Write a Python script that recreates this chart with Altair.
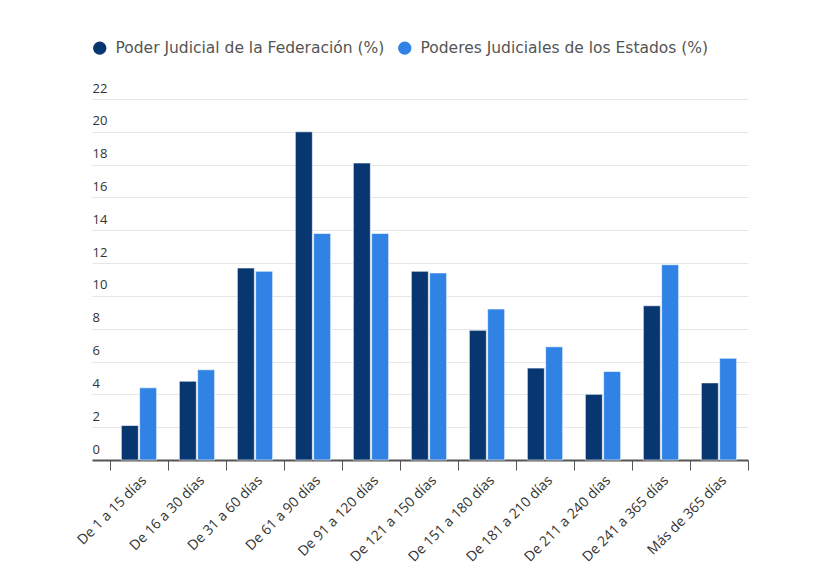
import altair as alt
import pandas as pd

categories = ["De 1 a 15 días", "De 16 a 30 días", "De 31 a 60 días", "De 61 a 90 días",
              "De 91 a 120 días", "De 121 a 150 días", "De 151 a 180 días", "De 181 a 210 días",
              "De 211 a 240 días", "De 241 a 365 días", "Más de 365 días"]
federacion = [2.1, 4.8, 11.7, 20.0, 18.1, 11.5, 7.9, 5.6, 4.0, 9.4, 4.7]
estados = [4.4, 5.5, 11.5, 13.8, 13.8, 11.4, 9.2, 6.9, 5.4, 11.9, 6.2]
series = ["Poder Judicial de la Federación (%)", "Poderes Judiciales de los Estados (%)"]
colors = ["#083671", "#3083e4"]
y_ticks = [0, 2, 4, 6, 8, 10, 12, 14, 16, 18, 20, 22]

rows = []
for c, f, e in zip(categories, federacion, estados):
    rows.append({"cat": c, "serie": series[0], "valor": f})
    rows.append({"cat": c, "serie": series[1], "valor": e})
df = pd.DataFrame(rows)

FONT = "Open Sans"
LEGEND_FONT = "DejaVu Sans"

chart = alt.Chart(df).mark_bar(stroke="white", strokeWidth=1, strokeOpacity=0.6).encode(
    x=alt.X("cat:N", sort=categories, title=None,
            scale=alt.Scale(paddingInner=0, paddingOuter=0.155, align=1),
            axis=alt.Axis(labelAngle=-45, labelFontSize=14, labelColor="#333333", labelFont=FONT,
                          domainColor="#555555", domainWidth=2, tickColor="#555555", tickWidth=1,
                          tickSize=10, tickBand="extent", labelPadding=3, grid=False)),
    xOffset=alt.XOffset("serie:N", sort=series,
                        scale=alt.Scale(paddingInner=0.07, paddingOuter=0.62)),
    y=alt.Y("valor:Q", title=None,
            scale=alt.Scale(domain=[0, 22], nice=False),
            axis=alt.Axis(values=y_ticks, labelAlign="left", labelBaseline="bottom", labelPadding=0,
                          labelOffset=-4, tickSize=0, domain=False, labelFontSize=13, labelColor="#333333",
                          labelFont=FONT, gridColor="#e6e6e6", gridWidth=1)),
    color=alt.Color("serie:N", sort=series, title=None,
                    scale=alt.Scale(domain=series, range=colors),
                    legend=alt.Legend(orient="none", legendX=0, legendY=-59, direction="horizontal",
                                      symbolType="circle", symbolSize=175, symbolStrokeWidth=0,
                                      labelFontSize=15.5, labelColor="#555555", labelFont=LEGEND_FONT,
                                      labelFontWeight="normal",
                                      labelOffset=8, columnPadding=12, labelLimit=400)),
).properties(
    width=656, height=361,
    autosize=alt.AutoSizeParams(type="none"),
    padding={"left": 84, "top": 91, "right": 63, "bottom": 105},
).configure(background="white").configure_view(stroke=None)

chart.save("out.html", embed_options={"renderer": "svg", "actions": False})
